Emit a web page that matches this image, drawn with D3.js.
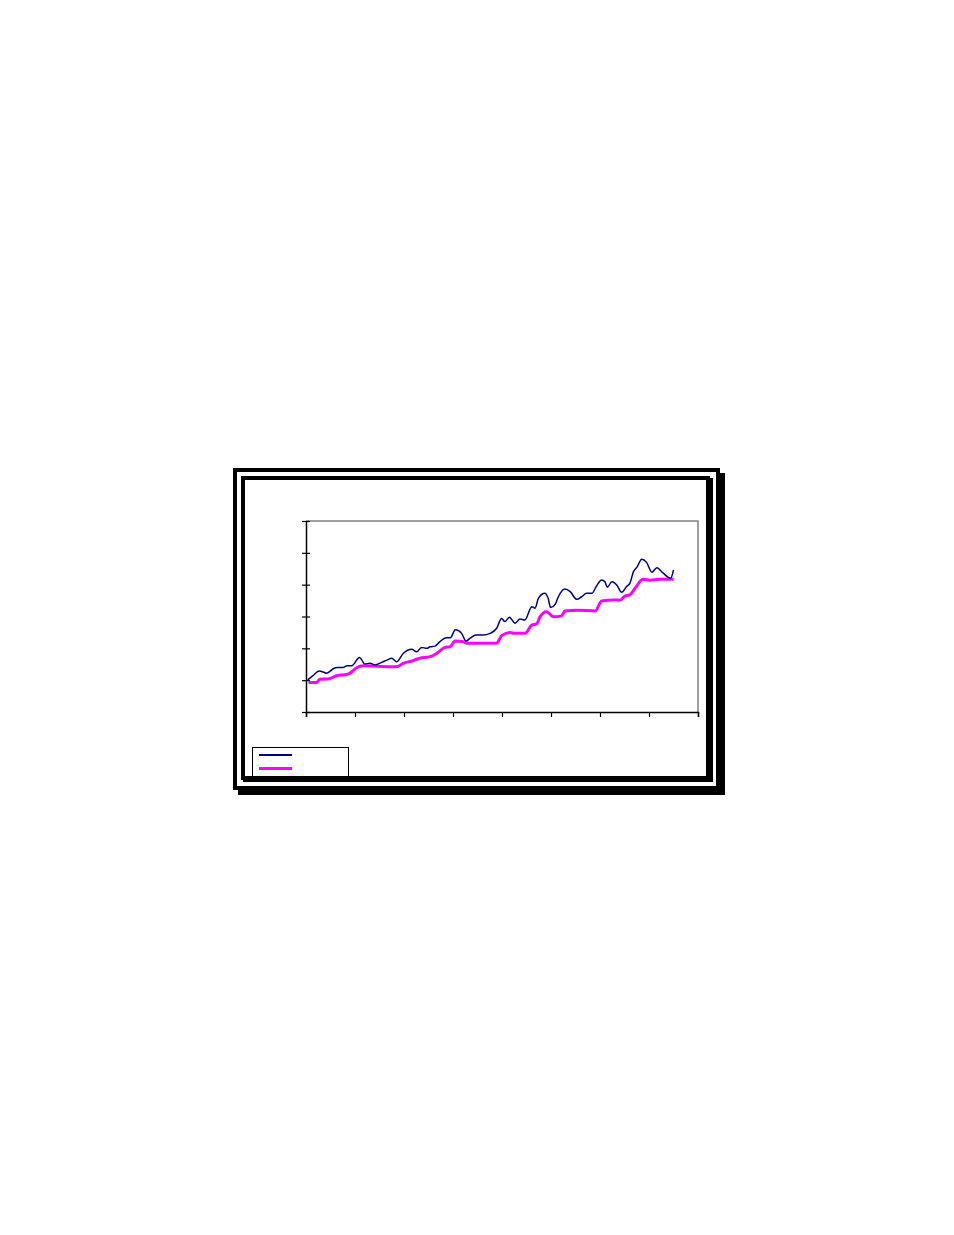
<!DOCTYPE html>
<html>
<head>
<meta charset="utf-8">
<script src="https://cdn.jsdelivr.net/npm/d3@7"></script>
<style>
  body { margin: 0; background: #fff; }
  svg { display: block; }
</style>
</head>
<body>
<div id="chart"></div>
<script>
// series 1 (navy): x in months from start, value
const blueX = [0.4, 1.7, 3.2, 5.1, 6.6, 7.5, 9.1, 10.0, 11.2, 13.1, 14.4, 15.7, 16.9, 18.5, 19.8,
  21.0, 22.2, 23.8, 25.9, 27.1, 28.3, 29.6, 30.4, 31.6, 32.8, 34.3, 35.3, 36.6, 38.1, 39.2,
  40.2, 41.6, 43.4, 45.1, 46.7, 47.9, 48.7, 49.8, 51.2, 52.4, 53.6, 55.3, 56.1, 56.9, 58.5,
  59.3, 59.9, 61.0, 61.8, 63.4, 64.7, 66.3, 67.5, 68.7, 70.0, 71.2, 72.4, 73.2, 73.8, 74.9,
  76.1, 77.3, 78.5, 79.3, 80.2, 81.1, 82.2, 83.4, 84.7, 85.9, 87.5, 89.3, 90.0];
const blueY = [10.05, 11.4, 12.9, 12.2, 13.5, 14.0, 14.0, 14.5, 14.5, 17.1, 15.1, 15.3, 14.8, 15.6, 16.3,
  16.9, 15.8, 18.4, 19.7, 18.9, 20.3, 20.0, 20.5, 20.7, 22.1, 23.3, 23.3, 25.8, 24.7, 22.3,
  23.2, 24.2, 24.2, 24.7, 26.3, 29.4, 28.4, 29.8, 27.9, 29.2, 28.9, 33.1, 32.6, 35.7, 37.3,
  35.7, 32.8, 33.8, 36.2, 38.6, 37.8, 35.4, 36.2, 37.3, 37.3, 39.7, 41.5, 40.9, 39.2, 40.9,
  39.9, 37.6, 39.4, 40.4, 44.1, 45.6, 48.0, 47.0, 43.9, 45.3, 43.6, 42.0, 44.6];

// series 2 (magenta)
const pinkX = [0.6, 2.6, 3.4, 5.5, 7.5, 10.0, 10.8, 12.4, 14.0, 20.6, 22.2, 23.8, 25.9, 27.9, 30.4,
  32.0, 34.0, 35.3, 36.5, 38.5, 39.4, 46.7, 47.9, 50.0, 50.8, 53.6, 55.3, 56.5, 57.3, 58.9,
  60.6, 62.6, 63.4, 66.3, 70.8, 72.4, 75.3, 76.9, 78.1, 79.3, 80.6, 82.5, 84.3, 86.8, 90.0];
const pinkY = [9.3, 9.3, 10.3, 10.4, 11.4, 11.8, 12.2, 13.9, 14.5, 14.2, 14.2, 15.3, 16.0, 16.9, 17.4,
  18.4, 20.3, 20.5, 22.3, 22.1, 21.6, 21.6, 24.0, 25.0, 24.7, 24.7, 27.3, 27.7, 29.9, 31.5,
  29.9, 30.2, 31.7, 32.0, 31.7, 34.9, 35.2, 35.1, 36.4, 36.8, 38.9, 41.7, 41.4, 41.7, 41.7];

const xTicks = [0, 12, 24, 36, 48, 60, 72, 84, 96];
const yTicks = [0, 10, 20, 30, 40, 50, 60];

const width = 954, height = 1235;
const plot = {left: 306, right: 698, top: 521, bottom: 712};

const svg = d3.select("#chart").append("svg")
    .attr("width", width)
    .attr("height", height);

// outer frame with shadow
svg.append("rect").attr("x", 238).attr("y", 473).attr("width", 487).attr("height", 322).attr("fill", "#000");
svg.append("rect").attr("x", 233).attr("y", 468).attr("width", 487).attr("height", 322).attr("fill", "#000");
svg.append("rect").attr("x", 237).attr("y", 472).attr("width", 479).attr("height", 314).attr("fill", "#fff");

// inner frame with shadow
svg.append("rect").attr("x", 243).attr("y", 478).attr("width", 470).attr("height", 304).attr("fill", "#000");
svg.append("rect").attr("x", 241).attr("y", 476).attr("width", 469).attr("height", 304).attr("fill", "#000");
svg.append("rect").attr("x", 245).attr("y", 480).attr("width", 461).attr("height", 296).attr("fill", "#fff");

// scales
var xScale = d3.scaleLinear().domain([0, 96]).range([plot.left, plot.right]);
var yScale = d3.scaleLinear().domain([0, 60]).range([plot.bottom, plot.top]);

// plot area top/right border (grey)
svg.append("path")
    .attr("d", `M${plot.left},${plot.top}H${plot.right}V${plot.bottom}`)
    .attr("fill", "none")
    .attr("stroke", "#808080")
    .attr("stroke-width", 1.5);

// axes
svg.append("g")
    .attr("transform", "translate(0," + plot.bottom + ")")
    .call(d3.axisBottom(xScale).tickValues(xTicks).tickSize(5).tickFormat(""))
    .call(g => g.select(".domain").attr("stroke", "#000").attr("stroke-width", 1.5))
    .call(g => g.selectAll(".tick line").attr("stroke", "#000").attr("stroke-width", 1.2));

svg.append("g")
    .attr("transform", "translate(" + plot.left + ",0)")
    .call(d3.axisLeft(yScale).tickValues(yTicks).tickSizeInner(4).tickSizeOuter(0).tickFormat(""))
    .call(g => g.select(".domain").attr("stroke", "#000").attr("stroke-width", 1.5))
    .call(g => g.selectAll(".tick line").attr("x2", 4).attr("x1", -4).attr("stroke", "#000").attr("stroke-width", 1.2));

// lines
const line = d3.line()
    .x(d => xScale(d[0]))
    .y(d => yScale(d[1]))
    .curve(d3.curveMonotoneX);

svg.append("path")
    .datum(pinkX.map((x, i) => [x, pinkY[i]]))
    .attr("d", line)
    .attr("fill", "none")
    .attr("stroke", "#ff00ff")
    .attr("stroke-width", 3)
    .attr("stroke-linejoin", "round");

svg.append("path")
    .datum(blueX.map((x, i) => [x, blueY[i]]))
    .attr("d", line)
    .attr("fill", "none")
    .attr("stroke", "#000080")
    .attr("stroke-width", 1.5)
    .attr("stroke-linejoin", "round");

// legend
const legend = svg.append("g");
legend.append("rect")
    .attr("x", 252.5).attr("y", 747.5)
    .attr("width", 96).attr("height", 30)
    .attr("fill", "#fff")
    .attr("stroke", "#000")
    .attr("stroke-width", 1);
legend.append("line")
    .attr("x1", 259).attr("x2", 292).attr("y1", 755).attr("y2", 755)
    .attr("stroke", "#000080").attr("stroke-width", 2);
legend.append("line")
    .attr("x1", 259).attr("x2", 292).attr("y1", 768.5).attr("y2", 768.5)
    .attr("stroke", "#ff00ff").attr("stroke-width", 3);

// redraw inner frame bottom edge over the legend box
svg.append("rect").attr("x", 245).attr("y", 776).attr("width", 465).attr("height", 4).attr("fill", "#000");
</script>
</body>
</html>
